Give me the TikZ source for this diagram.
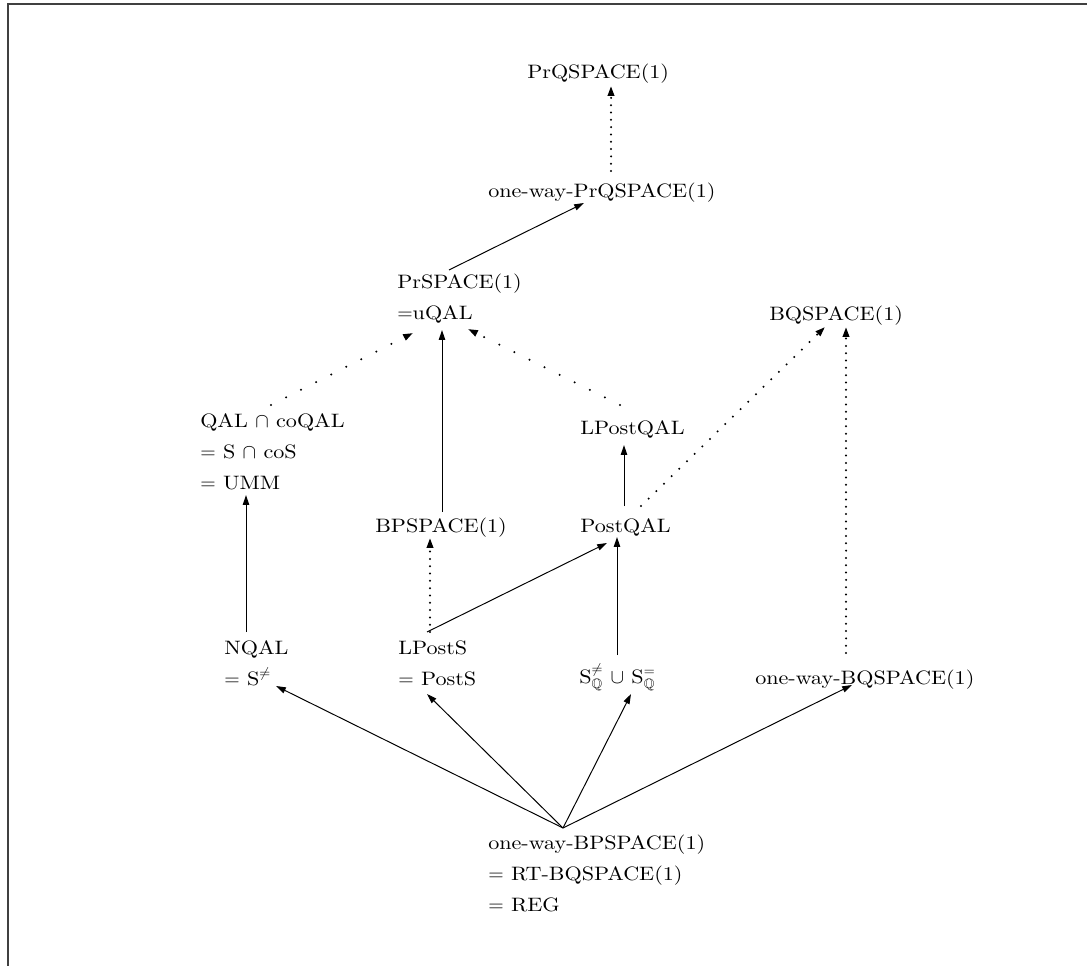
\documentclass[tikz,border=0pt]{standalone}
\usepackage{amsmath,amssymb}
\usepackage{fontspec}
\usepackage{tikz}
\usetikzlibrary{arrows.meta}
\newfontfamily\clsfont{lmroman10-regular.otf}[FakeStretch=1.14]

\begin{document}
\begin{tikzpicture}[x=0.025cm, y=-0.025cm,
  cls/.style={font=\clsfont\fontsize{13.8}{22}\selectfont, align=left, inner sep=0pt, anchor=base west},
  arr/.style={-{Triangle[length=7pt,width=4.5pt]}, line width=0.7pt},
  dotline/.style={-{Triangle[length=7pt,width=4.5pt]}, line width=1.6pt, line cap=round, dash pattern=on 0pt off #1}]
\useasboundingbox (0,0) rectangle (1087,966);
% frame
\draw[line width=1pt, black!75] (8,966) -- (8,4) -- (1087,4);
% classes (multi-line ones sit on their last line)
\node[cls] (prq) at (527,79) {PrQSPACE(1)};
\node[cls] (owprq) at (488,197) {one-way-PrQSPACE(1)};
\node[cls] (prs) at (397,319) {PrSPACE(1)\\$=$uQAL};
\node[cls] (bq) at (769,320) {BQSPACE(1)};
\node[cls] (qal) at (200,489) {QAL $\cap$ coQAL\\$=$ S $\cap$ coS\\$=$ UMM};
\node[cls] (lpq) at (580,434) {LPostQAL};
\node[cls] (bp) at (375,532) {BPSPACE(1)};
\node[cls] (pq) at (580,532) {PostQAL};
\node[cls] (nqal) at (224,685) {NQAL\\$=$ S$^{\neq}$};
\node[cls] (lps) at (398,685) {LPostS\\$=$ PostS};
\node[cls] (sq) at (579,683) {S$^{\neq}_{\mathbb{Q}}$ $\cup$ S$^{=}_{\mathbb{Q}}$};
\node[cls] (owbq) at (755,684) {one-way-BQSPACE(1)};
\node[cls] (reg) at (488,911) {one-way-BPSPACE(1)\\$=$ RT-BQSPACE(1)\\$=$ REG};
% upper part
\draw[dotline=5.2pt] ([shift={(123,-26)}]owprq.base west) -- ([shift={(84,7)}]prq.base west);
\draw[arr] ([shift={(52,-49)}]prs.base west) -- ([shift={(96,6)}]owprq.base west);
\draw[dotline=12pt] ([shift={(71,-84)}]qal.base west) -- ([shift={(16,14)}]prs.base west);
\draw[arr] ([shift={(67,-20)}]bp.base west) -- ([shift={(45,11)}]prs.base west);
\draw[dotline=12pt] ([shift={(40,-29)}]lpq.base west) -- ([shift={(71,10)}]prs.base west);
\draw[arr] ([shift={(44,-26)}]pq.base west) -- ([shift={(44,11)}]lpq.base west);
\draw[dotline=7.6pt] ([shift={(61,-26)}]pq.base west) -- ([shift={(56,7)}]bq.base west);
\draw[dotline=5.2pt] ([shift={(91,-31)}]owbq.base west) -- ([shift={(77,7)}]bq.base west);
% middle part
\draw[arr] ([shift={(22,-53)}]nqal.base west) -- ([shift={(46,6)}]qal.base west);
\draw[dotline=5.2pt] ([shift={(32,-53)}]lps.base west) -- ([shift={(55,6)}]bp.base west);
\draw[arr] ([shift={(29,-53)}]lps.base west) -- ([shift={(27,11)}]pq.base west);
\draw[arr] ([shift={(38,-28)}]sq.base west) -- ([shift={(37,5)}]pq.base west);
% from REG
\draw[arr] ([shift={(75,-83)}]reg.base west) -- ([shift={(52,1)}]nqal.base west);
\draw[arr] ([shift={(75,-83)}]reg.base west) -- ([shift={(29,9)}]lps.base west);
\draw[arr] ([shift={(75,-83)}]reg.base west) -- ([shift={(52,11)}]sq.base west);
\draw[arr] ([shift={(75,-83)}]reg.base west) -- ([shift={(97,1)}]owbq.base west);
\end{tikzpicture}
\end{document}
